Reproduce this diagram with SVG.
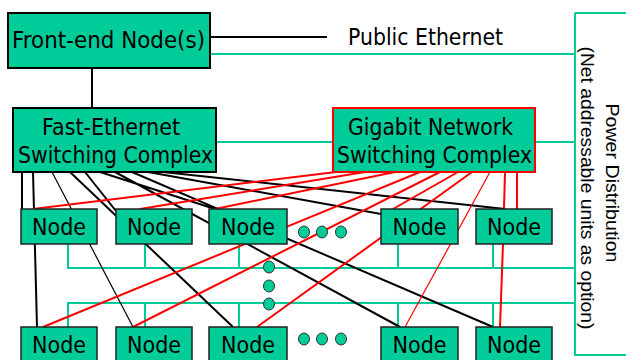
<svg xmlns="http://www.w3.org/2000/svg" width="626" height="360" viewBox="0 0 626 360">
<style>
.box{fill:#00CC99;stroke:#000;stroke-width:2}
.gbox{fill:#00CC99;stroke:#FF0000;stroke-width:2}
.node{fill:#00CC99;stroke:#222;stroke-width:1.5}
.t{font-family:"DejaVu Sans",Verdana,sans-serif;font-size:23px;fill:#000;text-anchor:middle}
.p{font-family:"Liberation Sans",Arial,sans-serif;font-size:19px;fill:#000;text-anchor:middle}
.g{stroke:#00CC99;stroke-width:2;fill:none}
.k{stroke:#000;stroke-width:2;fill:none}
.k1{stroke:#000;stroke-width:1.2;fill:none}
.r{stroke:#FF0000;stroke-width:2;fill:none}
.r1{stroke:#FF0000;stroke-width:1.2;fill:none}
.dot{fill:#00CC99;stroke:#333;stroke-width:1}
</style>
<g id="connectors">
<!-- green power / ethernet lines -->
<path class="g" d="M210 54H575M575 13H626M575 13V355H626M216 142H575M68 244V268H575M145 244V268M239 244V268M398 244V268M493 244V268M68 327V303H575M145 327V303M239 327V303M398 327V303M493 327V303"/>
<!-- black: front-end links -->
<path class="k" d="M210 37H327M92 68V108"/>
<!-- black: fast-ethernet to nodes -->
<path class="k" d="M22 172V209M33 172L37 327M70 172L233 327M85 172L116 211M100 172L215 209M115 172L400 327M132 172L493 327M148 172L381 214M163 172L505 209"/>
<path class="k1" d="M52 172L133 327"/>
<!-- red: gigabit to nodes -->
<path class="r" d="M336 172L33 209M365 172L140 209M395 172L215 209M420 172L43 327M440 172L133 327M458 172L393 209M472 172L257 327M505 172L503 244L500 327M517 172V209"/>
<path class="r1" d="M490 172L405 327"/>
</g>
<g id="frontend"><rect class="box" x="8" y="13" width="202" height="55"/><text class="t" x="108.5" y="48" textLength="193" lengthAdjust="spacingAndGlyphs">Front-end Node(s)</text></g>
<g id="public-ethernet"><text class="t" x="425.5" y="45" textLength="155" lengthAdjust="spacingAndGlyphs">Public Ethernet</text></g>
<g id="fast-switch"><rect class="box" x="13" y="108" width="203" height="64"/><text class="t" x="111" y="135" textLength="138" lengthAdjust="spacingAndGlyphs">Fast-Ethernet</text><text class="t" x="115.5" y="163" textLength="195" lengthAdjust="spacingAndGlyphs">Switching Complex</text></g>
<g id="gigabit-switch"><rect class="gbox" x="333" y="108" width="202" height="64"/><text class="t" x="430.5" y="135" textLength="165" lengthAdjust="spacingAndGlyphs">Gigabit Network</text><text class="t" x="434.5" y="163" textLength="195" lengthAdjust="spacingAndGlyphs">Switching Complex</text></g>
<g id="node-t1"><rect class="node" x="21" y="209" width="76" height="35"/><text class="t" x="59" y="235" textLength="54" lengthAdjust="spacingAndGlyphs">Node</text></g>
<g id="node-t2"><rect class="node" x="116" y="209" width="76" height="35"/><text class="t" x="154" y="235" textLength="54" lengthAdjust="spacingAndGlyphs">Node</text></g>
<g id="node-t3"><rect class="node" x="209" y="209" width="78" height="35"/><text class="t" x="248" y="235" textLength="54" lengthAdjust="spacingAndGlyphs">Node</text></g>
<g id="node-t4"><rect class="node" x="381" y="209" width="77" height="35"/><text class="t" x="419.5" y="235" textLength="54" lengthAdjust="spacingAndGlyphs">Node</text></g>
<g id="node-t5"><rect class="node" x="476" y="209" width="76" height="35"/><text class="t" x="514" y="235" textLength="54" lengthAdjust="spacingAndGlyphs">Node</text></g>
<g id="node-b1"><rect class="node" x="21" y="327" width="76" height="35"/><text class="t" x="59" y="353" textLength="54" lengthAdjust="spacingAndGlyphs">Node</text></g>
<g id="node-b2"><rect class="node" x="116" y="327" width="76" height="35"/><text class="t" x="154" y="353" textLength="54" lengthAdjust="spacingAndGlyphs">Node</text></g>
<g id="node-b3"><rect class="node" x="209" y="327" width="78" height="35"/><text class="t" x="248" y="353" textLength="54" lengthAdjust="spacingAndGlyphs">Node</text></g>
<g id="node-b4"><rect class="node" x="381" y="327" width="77" height="35"/><text class="t" x="419.5" y="353" textLength="54" lengthAdjust="spacingAndGlyphs">Node</text></g>
<g id="node-b5"><rect class="node" x="476" y="327" width="76" height="35"/><text class="t" x="514" y="353" textLength="54" lengthAdjust="spacingAndGlyphs">Node</text></g>
<g id="ellipsis">
<ellipse class="dot" cx="304" cy="232" rx="5.5" ry="6"/><ellipse class="dot" cx="322" cy="232" rx="5.5" ry="6"/><ellipse class="dot" cx="341" cy="232" rx="5.5" ry="6"/>
<ellipse class="dot" cx="269" cy="267" rx="5.5" ry="6"/><ellipse class="dot" cx="269" cy="286" rx="5.5" ry="6"/><ellipse class="dot" cx="269" cy="304" rx="5.5" ry="6"/>
<ellipse class="dot" cx="304" cy="339" rx="5.5" ry="6"/><ellipse class="dot" cx="322" cy="339" rx="5.5" ry="6"/><ellipse class="dot" cx="341" cy="339" rx="5.5" ry="6"/>
</g>
<g id="power-distribution">
<text class="p" transform="translate(606,183) rotate(90)" textLength="159" lengthAdjust="spacingAndGlyphs">Power Distribution</text>
<text class="p" transform="translate(581,188) rotate(90)" textLength="283" lengthAdjust="spacingAndGlyphs">(Net addressable units as option)</text>
</g>
</svg>
